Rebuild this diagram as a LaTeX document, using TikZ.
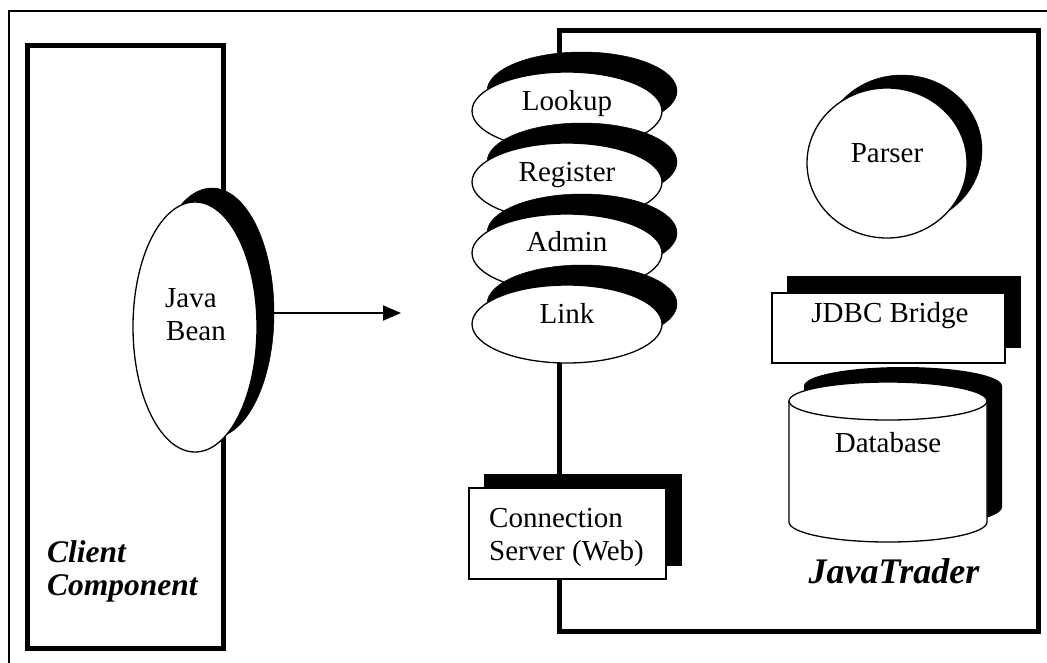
\documentclass[tikz,border=0pt]{standalone}
\usepackage{fontspec}
\setmainfont{Liberation Serif}
\usetikzlibrary{shapes.geometric, arrows.meta}
\tikzset{
  shadowfill/.style={fill=black, draw=black, line width=0.5pt, inner sep=0pt, outer sep=0pt},
  whitefill/.style={fill=white, draw=black, line width=1.3pt, inner sep=0pt, outer sep=0pt},
  oval/.style={ellipse, minimum width=190pt, minimum height=78pt},
  lbl/.style={font=\fontsize{29}{34}\selectfont, inner sep=0pt, anchor=base},
  lblw/.style={font=\fontsize{29}{34}\selectfont, inner sep=0pt, anchor=base west},
  titletext/.style={font=\bfseries\itshape\fontsize{31.5}{36}\selectfont, inner sep=0pt, anchor=base west},
  thickbox/.style={draw=black, line width=5pt, rectangle, inner sep=0pt, outer sep=0pt, anchor=north west},
  plainbox/.style={rectangle, anchor=north west}
}
\begin{document}
\begin{tikzpicture}[x=1pt,y=-1pt]
\useasboundingbox (0,0) rectangle (1047,662);
% outer frame (only top and left edges are inside the picture)
\coordinate (frameBL) at (9,680);
\coordinate (frameTL) at (9,11);
\coordinate (frameTR) at (1070,11);
\draw[line width=2pt] (frameBL) -- (frameTL) -- (frameTR);

% client component box
\node[thickbox, minimum width=196pt, minimum height=603pt] (client) at (27,45) {};
% JavaTrader box
\node[thickbox, minimum width=479pt, minimum height=601pt] (jt) at (559,30) {};

% Java Bean
\node[shadowfill, ellipse, minimum width=124pt, minimum height=250pt] (beanshadow) at (212,313) {};
\node[whitefill, ellipse, minimum width=124pt, minimum height=250pt] (bean) at (195,327) {};
\node[lblw] (beant1) at (165,307) {Java};
\node[lblw] (beant2) at (166,340) {Bean};

% arrow
\coordinate (arrowtip) at (401,313);
\draw[line width=2pt, -{Triangle[length=18pt,width=15pt]}] (beanshadow.east) -- (arrowtip);

% stack of ovals
\node[shadowfill, oval] (lookups) at (582,91) {};
\node[whitefill, oval] (lookup) at (567,111) {};
\node[lbl] (lookupt) at (567,110) {Lookup};
\node[shadowfill, oval] (registers) at (582,162) {};
\node[whitefill, oval] (register) at (567,182) {};
\node[lbl] (registert) at (567,181) {Register};
\node[shadowfill, oval] (admins) at (582,233) {};
\node[whitefill, oval] (admin) at (567,253) {};
\node[lbl] (admint) at (567,251) {Admin};
\node[shadowfill, oval] (links) at (582,304) {};
\node[whitefill, oval] (link) at (567,324) {};
\node[lbl] (linkt) at (567,323) {Link};

% Connection server
\node[shadowfill, plainbox, minimum width=197pt, minimum height=91pt] (css) at (484,474) {};
\node[whitefill, plainbox, minimum width=197pt, minimum height=91pt] (cs) at (469,488) {};
\node[lblw] (cst1) at (489,527) {Connection};
\node[lblw] (cst2) at (489,560) {Server (Web)};

% Parser
\node[shadowfill, ellipse, minimum width=160pt, minimum height=150pt] (parsers) at (902,150) {};
\node[whitefill, ellipse, minimum width=160pt, minimum height=150pt] (parser) at (887,163) {};
\node[lbl] (parsert) at (887,162) {Parser};

% JDBC bridge
\node[shadowfill, plainbox, minimum width=233pt, minimum height=71pt] (jdbcs) at (787,276) {};
\node[whitefill, plainbox, minimum width=233pt, minimum height=70pt] (jdbc) at (772,293) {};
\node[lbl] (jdbct) at (890,322) {JDBC Bridge};

% Database cylinder
\begin{scope}[shift={(15,-15)}]
  \fill[black] (789,401) -- (789,522) arc[start angle=180, end angle=360, x radius=99pt, y radius=20pt]
     -- (987,401) arc[start angle=0, end angle=180, x radius=99pt, y radius=19pt] -- cycle;
\end{scope}
\draw[fill=white, line width=1.3pt] (789,401) -- (789,522) arc[start angle=180, end angle=360, x radius=99pt, y radius=20pt]
   -- (987,401) arc[start angle=0, end angle=180, x radius=99pt, y radius=19pt] -- cycle;
\draw[line width=1.3pt] (789,401) arc[start angle=180, end angle=360, x radius=99pt, y radius=19pt];
\node[lbl] (dbt) at (888,452) {Database};

% titles
\node[titletext] (clientt1) at (47,562) {Client};
\node[titletext] (clientt2) at (47,595) {Component};
\node[font=\bfseries\itshape\fontsize{36}{40}\selectfont, inner sep=0pt, anchor=base] (jtt) at (894,583) {JavaTrader};
\end{tikzpicture}
\end{document}
